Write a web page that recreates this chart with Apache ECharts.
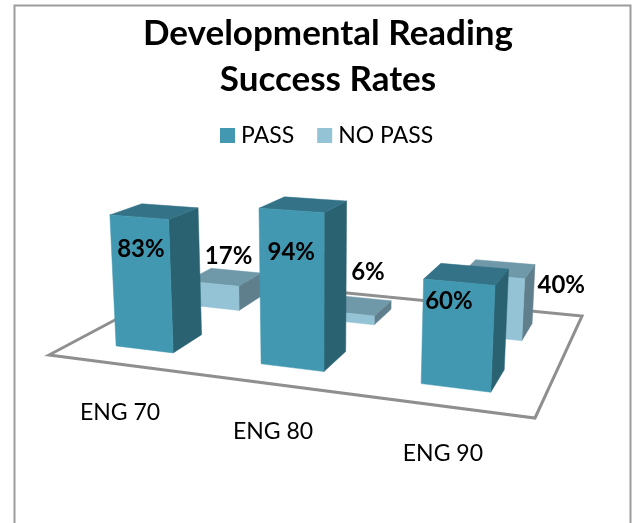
<!DOCTYPE html>
<html>
<head>
<meta charset="utf-8">
<style>html,body{margin:0;padding:0;background:#fff}#c{width:633px;height:523px}</style>
<script src="https://cdn.jsdelivr.net/npm/echarts@6/dist/echarts.min.js"></script>
</head>
<body>
<div id="c"></div>
<script>
const categories = ['ENG 70', 'ENG 80', 'ENG 90'];
const passValues = [83, 94, 60];
const noPassValues = [17, 6, 40];
const seriesNames = ['PASS', 'NO PASS'];

// Perspective of the floor: unit square (u along categories, v into depth) to screen.
const H = { a: 408.7, b: 197.4, c: 49, d: 2.6, e: -1.9, f: 355, g: -0.1445, h: 0.2701 };
const HEIGHT_SCALE = 1.62, LEAN = 4300, LEAN_X = 320;
const BAR_SHARE = 0.405, DEPTH = 0.2;
const FONT = 'Lato, "Open Sans", sans-serif';

function project(u, v, pct) {
  const w = H.g * u + H.h * v + 1;
  const x = (H.a * u + H.b * v + H.c) / w;
  const y = (H.d * u + H.e * v + H.f) / w;
  const up = pct * HEIGHT_SCALE / w;
  return [x + up * (x - LEAN_X) / LEAN, y - up];
}

function barRenderer(vCenter, faces, labelOffsets) {
  return function (params, api) {
    const cs = params.coordSys;
    const idx = api.value(0), val = api.value(1);
    const base = api.coord([idx, 0]), top = api.coord([idx, val]);
    const uc = (base[0] - cs.x) / cs.width;
    const pct = (base[1] - top[1]) / cs.height * 100;
    const half = api.size([1, 0])[0] * BAR_SHARE / 2 / cs.width;
    const u0 = uc - half, u1 = uc + half, v0 = vCenter - DEPTH / 2, v1 = vCenter + DEPTH / 2;
    const P = (u, v, h) => project(u, v, h);
    const poly = (points, fill) => ({ type: 'polygon', shape: { points }, style: { fill, stroke: fill, lineWidth: 0.5 } });
    const anchor = P(uc, v0, pct), off = labelOffsets[idx];
    return {
      type: 'group',
      children: [
        poly([P(u1, v0, 0), P(u1, v1, 0), P(u1, v1, pct), P(u1, v0, pct)], faces.side),
        poly([P(u0, v0, pct), P(u1, v0, pct), P(u1, v1, pct), P(u0, v1, pct)], faces.top),
        poly([P(u0, v0, 0), P(u1, v0, 0), P(u1, v0, pct), P(u0, v0, pct)], faces.front),
        { type: 'text', z2: 50, style: {
            text: val + '%', x: anchor[0] + off[0], y: anchor[1] + off[1],
            align: 'center', verticalAlign: 'middle',
            font: 'bold 24px ' + FONT, fill: '#000' } }
      ]
    };
  };
}

const option = {
  animation: false,
  backgroundColor: '#fff',
  title: {
    text: 'Developmental Reading\nSuccess Rates',
    left: 323, top: 6,
    textAlign: 'center',
    textStyle: { fontFamily: FONT, fontWeight: 'bold', fontSize: 35, color: '#000', lineHeight: 46 }
  },
  legend: {
    data: seriesNames, left: 215, top: 119,
    icon: 'rect', itemWidth: 15, itemHeight: 15, itemGap: 23,
    selectedMode: false,
    textStyle: { fontFamily: FONT, fontSize: 23, color: '#000', padding: [0, 0, 0, 1] }
  },
  grid: { left: 0, right: 0, top: 0, bottom: 0 },
  xAxis: { type: 'category', data: categories, show: false },
  yAxis: { type: 'value', min: 0, max: 100, show: false },
  graphic: [{
    type: 'rect', silent: true, z: 0,
    shape: { x: 14.5, y: 5.5, width: 616, height: 540 },
    style: { fill: 'none', stroke: '#9c9c9c', lineWidth: 2 }
  }],
  series: [
    {
      type: 'custom', name: 'floor', z: 1, silent: true,
      data: categories.map((c, i) => [i, 0]),
      encode: { x: 0, y: 1 },
      renderItem(params, api) {
        const cs = params.coordSys, idx = api.value(0);
        const uc = (api.coord([idx, 0])[0] - cs.x) / cs.width;
        const edge = project(uc, 0, 0);
        const children = [{ type: 'text', z2: 5, style: {
          text: categories[idx], x: edge[0], y: edge[1] + 48,
          align: 'center', verticalAlign: 'middle',
          font: '23px ' + FONT, fill: '#000' } }];
        if (idx === 0) {
          children.unshift({ type: 'polygon',
            shape: { points: [project(0,0,0), project(1,0,0), project(1,1,0), project(0,1,0)] },
            style: { fill: '#fff', stroke: '#8f8f8f', lineWidth: 3 } });
        }
        return { type: 'group', children };
      }
    },
    {
      type: 'custom', name: 'NO PASS', z: 2, silent: true,
      itemStyle: { color: '#93c3d5' },
      data: noPassValues.map((v, i) => [i, v]),
      encode: { x: 0, y: 1 },
      renderItem: barRenderer(0.75, { front: '#93c3d5', side: '#5f7f8c', top: '#6f98a8' },
        [[16, -27], [22, -41], [68, 9]])
    },
    {
      type: 'custom', name: 'PASS', z: 3, silent: true,
      itemStyle: { color: '#4298b1' },
      data: passValues.map((v, i) => [i, v]),
      encode: { x: 0, y: 1 },
      renderItem: barRenderer(0.25, { front: '#4298b1', side: '#2a6272', top: '#347387' },
        [[2, 32], [0, 42], [-10, 19]])
    }
  ]
};
echarts.init(document.getElementById('c'), null, { renderer: 'canvas' }).setOption(option);
</script>
</body>
</html>
